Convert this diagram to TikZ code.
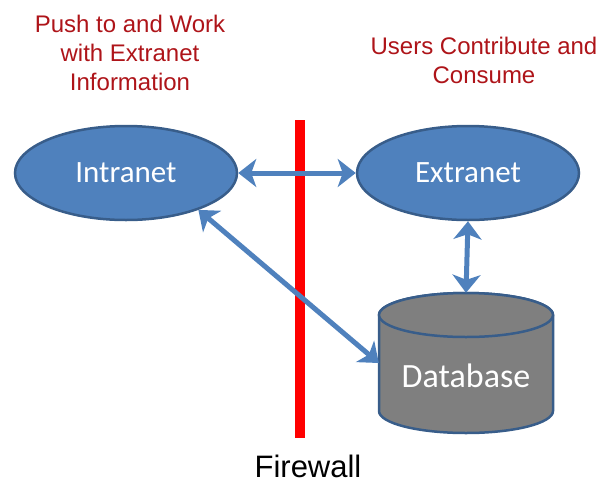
\documentclass[tikz,border=0pt]{standalone}
\usepackage{fontspec}
\setmainfont{Liberation Sans}
\newfontfamily\calibri{Carlito}
\usetikzlibrary{shapes.geometric,arrows.meta}
\definecolor{nodeblue}{HTML}{4F81BD}
\definecolor{edgeblue}{HTML}{385D8A}
\definecolor{dbgray}{HTML}{7F7F7F}
\definecolor{notered}{HTML}{AE1419}
\definecolor{wallred}{HTML}{FF0000}
\begin{document}
\begin{tikzpicture}[x=1pt,y=-1pt,
  net/.style={ellipse, draw=edgeblue, line width=2.5pt, fill=nodeblue,
    minimum width=222pt, minimum height=94pt, inner sep=0pt, text=white,
    font=\calibri\fontsize{31}{36}\selectfont},
  link/.style={line width=5pt, draw=nodeblue, {Stealth[length=18pt,width=28pt,inset=5pt]}-{Stealth[length=18pt,width=28pt,inset=5pt]}},
  note/.style={text=notered, align=center, font=\fontsize{24}{29}\selectfont},
  dbbody/.style={fill=dbgray, draw=edgeblue, line width=2.5pt}]
\useasboundingbox (0,0) rectangle (606,483);

% captions
\node[note] (push) at (130,53) {Push to and Work\\with Extranet\\Information};
\node[note] (users) at (484,60) {Users Contribute and\\Consume};

% firewall
\coordinate (fwtop) at (300,120);
\coordinate (fwbot) at (300,438);
\draw[wallred, line width=10pt] (fwtop) -- (fwbot);
\node[font=\fontsize{31}{36}\selectfont, inner sep=1pt] (fw) at (308,466) {Firewall};

% networks
\node[net] (intra) at (126,173) {Intranet};
\node[net] (extra) at (468,173) {Extranet};

% database cylinder
\node[minimum width=174pt, minimum height=140pt, inner sep=0pt] (db) at (466,363) {};
\draw[dbbody] (379,315) -- (379,411)
  arc[start angle=180, end angle=0, x radius=87, y radius=22]
  -- (553,315)
  arc[start angle=0, end angle=-180, x radius=87, y radius=22] -- cycle;
\draw[dbbody] (466,315) ellipse[x radius=87, y radius=22];
\node[text=white, font=\calibri\fontsize{34}{40}\selectfont] (dbtext) at (466,376) {Database};

% connectors
\draw[link] (intra) -- (extra);
\draw[link] (extra.south) -- (db.north);
\draw[link] (intra.-27) -- (db.west);
\end{tikzpicture}
\end{document}
